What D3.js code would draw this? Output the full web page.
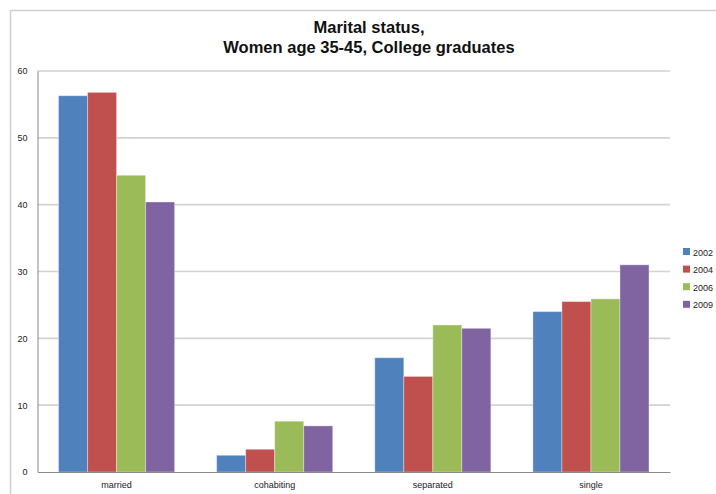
<!DOCTYPE html>
<html>
<head>
<meta charset="utf-8">
<script src="https://cdn.jsdelivr.net/npm/d3@7"></script>
<style>
  html, body { margin: 0; padding: 0; background: #fff; }
  svg { display: block; }
</style>
</head>
<body>
<svg id="chart" width="716" height="494"></svg>
<script>
// Marital status shares (%) by survey year
const categories = ["married", "cohabiting", "separated", "single"];
const years = ["2002", "2004", "2006", "2009"];
const values2002 = [56.3, 2.5, 17.1, 24.0];
const values2004 = [56.8, 3.4, 14.3, 25.5];
const values2006 = [44.4, 7.6, 22.0, 25.9];
const values2009 = [40.4, 6.9, 21.5, 31.0];
const yTicks = [0, 10, 20, 30, 40, 50, 60];
const colors = ["#4f81bd", "#c0504d", "#9bbb59", "#8064a2"];

const seriesValues = [values2002, values2004, values2006, values2009];
const rows = categories.map((c, i) => ({
  category: c,
  values: years.map((y, j) => ({ year: y, value: seriesValues[j][i] }))
}));

const svg = d3.select("#chart");
const font = "'Liberation Sans', Arial, sans-serif";

// outer chart frame
svg.append("path")
  .attr("d", "M10.5,494 V10.5 H716")
  .attr("fill", "none")
  .attr("stroke", "#cfcfcf")
  .attr("stroke-width", 1.5);

const plot = { left: 37.5, right: 670, top: 71, bottom: 472 };

const y = d3.scaleLinear().domain([0, 60]).range([plot.bottom, plot.top]);
const x0 = d3.scaleBand().domain(categories).range([plot.left, plot.right]).padding(0);
const x1 = d3.scaleBand().domain(years)
  .range([x0.bandwidth() * 0.133, x0.bandwidth() * 0.867]).padding(0);
const color = d3.scaleOrdinal().domain(years).range(colors);

// horizontal gridlines
svg.append("g")
  .selectAll("line")
  .data(yTicks.filter(t => t > 0))
  .join("line")
  .attr("x1", plot.left).attr("x2", plot.right)
  .attr("y1", d => y(d)).attr("y2", d => y(d))
  .attr("stroke", "#d2d2d2")
  .attr("stroke-width", 1.6);

// bars
svg.append("g")
  .selectAll("g")
  .data(rows)
  .join("g")
  .attr("transform", d => `translate(${x0(d.category)},0)`)
  .selectAll("rect")
  .data(d => d.values)
  .join("rect")
  .attr("x", d => x1(d.year))
  .attr("width", x1.bandwidth())
  .attr("y", d => y(d.value))
  .attr("height", d => y(0) - y(d.value))
  .attr("fill", d => color(d.year))
  .attr("stroke", "rgba(255,255,255,0.35)")
  .attr("stroke-width", 1);

// y axis
const yAxis = svg.append("g")
  .attr("transform", `translate(${plot.left},0)`)
  .call(d3.axisLeft(y).tickValues(yTicks).tickSize(0).tickPadding(10));
yAxis.select(".domain").attr("stroke", "#8a8a8a").attr("stroke-width", 1);
yAxis.selectAll("text")
  .attr("font-family", font).attr("font-size", 9).attr("fill", "#222");

// x axis
const xAxis = svg.append("g")
  .attr("transform", `translate(0,${plot.bottom})`)
  .call(d3.axisBottom(x0).tickSize(0).tickPadding(10));
xAxis.select(".domain").attr("stroke", "#8a8a8a").attr("stroke-width", 1.2);
xAxis.selectAll("text")
  .attr("font-family", font).attr("font-size", 9).attr("fill", "#222");

// title
const title = svg.append("text")
  .attr("x", 369)
  .attr("text-anchor", "middle")
  .attr("font-family", font)
  .attr("font-weight", "bold")
  .attr("font-size", 16.5)
  .attr("fill", "#111");
title.append("tspan").attr("x", 369).attr("y", 33).text("Marital status,");
title.append("tspan").attr("x", 369).attr("y", 53).text("Women age 35-45, College graduates");

// legend
const legend = svg.append("g")
  .selectAll("g")
  .data(years)
  .join("g")
  .attr("transform", (d, i) => `translate(683,${252 + i * 17.6})`);
legend.append("rect")
  .attr("x", 0).attr("y", -4)
  .attr("width", 7).attr("height", 7)
  .attr("fill", d => color(d));
legend.append("text")
  .attr("x", 10).attr("y", 3.5)
  .attr("font-family", font).attr("font-size", 9).attr("fill", "#222")
  .text(d => d);
</script>
</body>
</html>
